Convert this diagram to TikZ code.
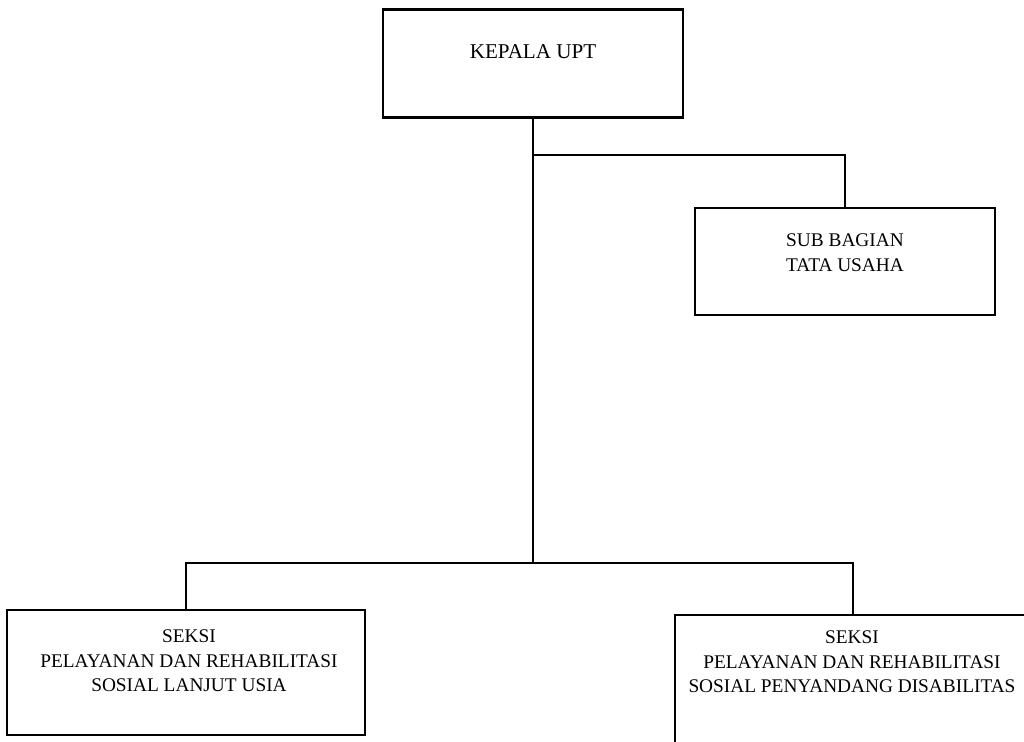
\documentclass[tikz,border=0pt]{standalone}
\usepackage{fontspec}
\setmainfont{Liberation Serif}
\tikzset{
  unit/.style={draw, line width=1.2pt, rectangle, inner sep=0pt},
  unittxt/.style={align=center, font=\fontsize{11}{14}\selectfont},
  link/.style={line width=1.2pt}
}
\begin{document}
\begin{tikzpicture}[x=0.02cm, y=-0.02cm]
		\useasboundingbox (0,0) rectangle (1024,742);
		\node[unit, minimum width=6cm, minimum height=2.16cm] (kepala) at (533,63.5) {};
		\node[unittxt, font=\fontsize{12}{14}\selectfont] (kepalatxt) at (533,52) {KEPALA UPT};
		\node[unit, minimum width=6cm, minimum height=2.14cm] (subbag) at (845,261.5) {};
		\node[unittxt] (subbagtxt) at (845,253) {SUB BAGIAN\\TATA USAHA};
		\node[unit, minimum width=7.16cm, minimum height=2.5cm] (seksilu) at (186,672.5) {};
		\node[unittxt] (seksilutxt) at (189,661) {SEKSI\\PELAYANAN DAN REHABILITASI\\SOSIAL LANJUT USIA};
		\node[unit, minimum width=7.12cm, minimum height=2.8cm, anchor=north] (seksipd) at (853,614) {};
		\node[unittxt] (seksipdtxt) at (852,662) {SEKSI\\PELAYANAN DAN REHABILITASI\\SOSIAL PENYANDANG DISABILITAS};
		\coordinate (branch) at (533,155);
		\coordinate (split) at (533,563);
		\draw[link] (kepala.south) -- (split);
		\draw[link] (branch) -| (subbag.north);
		\draw[link] (seksilu.north) |- (split) -| (seksipd.north);
	\end{tikzpicture}
\end{document}
